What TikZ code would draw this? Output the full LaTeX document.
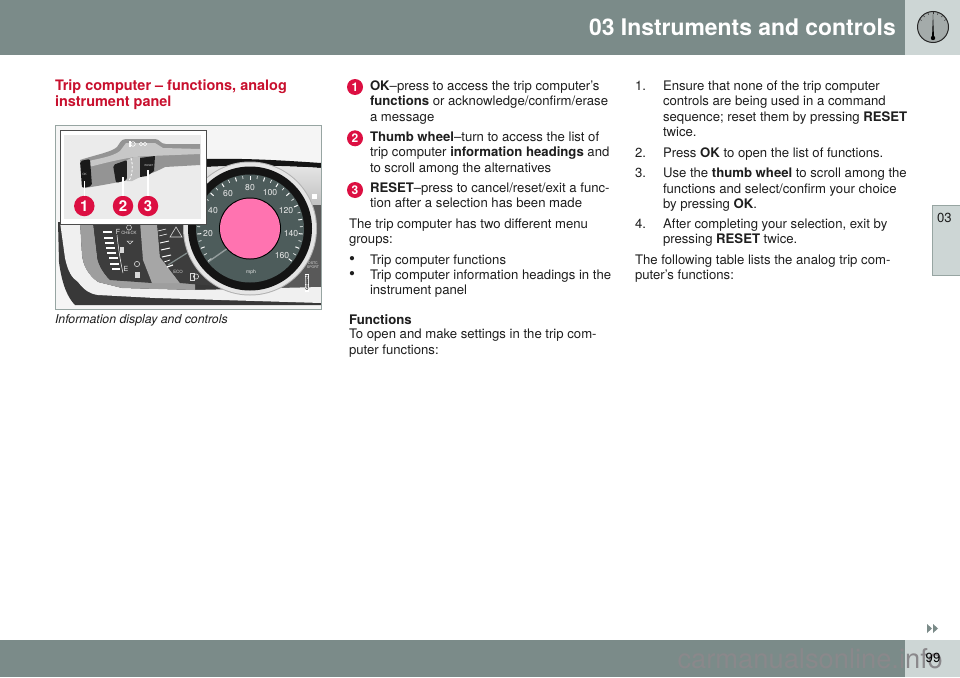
\documentclass[tikz,border=0pt]{standalone}
\usepackage{fontspec}
\setmainfont{TeX Gyre Heros}
\usetikzlibrary{calc,positioning}
\definecolor{bandgrey}{HTML}{7B8B89}
\definecolor{tabgrey}{HTML}{CDD6D5}
\definecolor{tabedge}{HTML}{97A5A2}
\definecolor{titlered}{HTML}{C8102E}
\definecolor{callred}{HTML}{DC0F42}
\definecolor{dialgrey}{HTML}{4D5C5B}
\definecolor{inkgrey}{HTML}{1E1E1E}
\definecolor{pinkhub}{HTML}{FF73B0}
\definecolor{webgrey}{HTML}{8A888B}
\newcommand{\bodysize}{\fontsize{13.15}{15}\selectfont}

\begin{document}
\begin{tikzpicture}
[
               x =  1pt,
               y = -1pt,
         txt/.style = { anchor=base west, inner sep=0pt, outer sep=0pt, text=inkgrey, font=\bodysize },
        head/.style = { anchor=base west, inner sep=0pt, outer sep=0pt, text=titlered, font=\fontsize{14.45}{16}\selectfont\bfseries },
        bull/.style = { circle, fill=callred, inner sep=0pt, minimum size=16pt, text=white, font=\fontsize{12}{12}\selectfont\bfseries },
        call/.style = { circle, fill=callred, inner sep=0pt, minimum size=20.5pt, text=white, font=\fontsize{15}{15}\selectfont\bfseries },
        leader/.style = { draw=white, line width=1.1pt },
        dial/.style = { inner sep=0pt, text=white!92!black, font=\fontsize{8.6}{9}\selectfont },
        tiny/.style = { inner sep=0pt, text=white!85!black, font=\fontsize{4.4}{5}\selectfont }
]
\useasboundingbox (0,0) rectangle (960,677);
\fill[white] (0,0) rectangle (960,677);

% page bands
\fill[bandgrey] (0,0) rectangle (905,55);
\fill[tabgrey] (905,0) rectangle (960,55);
\fill[bandgrey] (0,640) rectangle (905,677);
\fill[tabgrey] (905,640) rectangle (960,677);
\fill[tabgrey] (932,205) rectangle (960,275);
\draw[tabedge,line width=0.8pt] (960,205) -- (932,205) -- (932,275) -- (960,275);
\node (chapter) at (896,36) [anchor=base east, inner sep=0pt, text=white, font=\fontsize{22.9}{24}\selectfont\bfseries] {03 Instruments and controls};
\node (tabno) at (937,222) [txt] {03};

% gauge icon
\draw[black!85,fill=tabgrey!80!black,line width=1pt] (933,27) circle (15.5);
\foreach \a in {30,50,...,150} { \draw[black!80,line width=0.5pt] (933,27) ++(\a:-13) -- ++(\a:-2) ; }
\fill[black] (932,38) -- (933,14) -- (934,38) -- cycle;
\fill[black] (933,38) circle (2.2);

% photo
\begin{scope}
\clip (55,125) rectangle (321,309);
\fill[white!96!black] (55,125) rectangle (321,309);
\fill[black!92] (205,159) .. controls (250,158) and (290,161) .. (321,163) -- (321,168) .. controls (290,166) and (250,165) .. (205,167) -- cycle;
\shade[top color=black!10, bottom color=black!55] (205,167) .. controls (250,165) and (290,166) .. (321,168) -- (321,290) -- (205,290) -- cycle;
\fill[black!78] (58,222) -- (59,262) .. controls (62,285) and (68,298) .. (75,305) -- (321,305) -- (321,222) -- cycle;
\fill[black!65] (300,205) -- (321,205) -- (321,288) -- (250,288) -- cycle;
% silver trim
\fill[black!6] (60,222) -- (65,258) .. controls (68,272) and (72,278) .. (78,282) .. controls (84,290) and (90,294) .. (98,295) -- (155,298) -- (321,303) -- (321,287) -- (195,290) -- (122,288) -- (98,282) .. controls (88,275) and (83,265) .. (82,255) -- (80,222) -- cycle;
\fill[black!38] (80,222) -- (82,255) .. controls (83,265) and (88,275) .. (98,282) -- (122,288) -- (195,290) -- (195,283) -- (110,280) .. controls (102,272) and (97,262) .. (97,255) -- (93,222) -- cycle;
% gauge panels
\fill[black!76] (93,222) -- (97,255) .. controls (97,262) and (102,272) .. (110,280) -- (152,283) -- (143,260) -- (140,222) -- cycle;
\fill[black!35] (140,222) -- (143,260) -- (152,283) -- (180,283) -- (160,257) -- (157,222) -- cycle;
\fill[black!76] (157,222) -- (160,257) -- (180,283) -- (215,286) -- (215,222) -- cycle;
\foreach \y/\xa/\xb in {232/103/112,238/104/113,243/105/114,248/106/115,253/107/116,258/109/118,264/110/119,269/112/120} { \fill[white] (\xa,\y-1) rectangle (\xb,\y+1); }
\draw[white,line width=0.5pt] (117,235) .. controls (118,245) and (120,260) .. (123,273);
\node (fmark) at (118,232) [dial, font=\fontsize{7}{7}\selectfont] {F};
\node (emark) at (126,269) [dial, font=\fontsize{7}{7}\selectfont] {E};
\node (check) at (129,232.5) [tiny] {CHECK};
\draw[white!85!black,line width=0.5pt] (129,227.5) circle (2.5);
\draw[white!85!black,line width=0.5pt] (127,241) -- (133,241) -- (130,244) -- cycle;
\fill[white!85!black] (120,247) rectangle (124,253);
\fill[white!85!black] (135,272) rectangle (140,278);
\draw[white!85!black,line width=0.6pt] (137,264) circle (2.6);
% warning triangle and scale
\draw[white!85!black,line width=0.6pt] (170,237) -- (176,227) -- (182,237) -- cycle;
\foreach \x/\y/\w/\t in {158/229/8/0.5,159/234/8/0.5,160/241/9/0.9,161/248/9/1,162/255/9/1,164/260/6/0.7,167/265/6/1.2} { \draw[white,line width=\t pt] (\x,\y+2) -- ++(\w,-2); }
\node (ecomark) at (178,272) [tiny] {ECO};
\draw[white!85!black,line width=0.6pt] (190,273) rectangle (194,280);
\draw[white!85!black,line width=0.6pt] (196,276.5) circle (2.6);
\draw[dialgrey!70!white,line width=1.2pt] (168,265) -- (187,253);
% speedometer
\fill[black!30] (250,228.5) circle (67);
\fill[white!90!black] (250,228.5) circle (66);
\fill[black!92] (250,228.5) circle (62);
\fill[dialgrey] (250,228.5) circle (54);
\foreach \a in {218,202,...,-38} { \draw[white,line width=1pt] (250,228.5) ++(\a:-49) -- ++(\a:-4); }
\foreach \a in {210,194,...,-30} { \draw[white,line width=0.6pt] (250,228.5) ++(\a:-50) -- ++(\a:-3); }
\node (d20) at (208,234) [dial] {20};
\node (d40) at (213,211) [dial] {40};
\node (d60) at (228,194) [dial] {60};
\node (d80) at (250,188) [dial] {80};
\node (d100) at (270,193) [dial] {100};
\node (d120) at (286,211) [dial] {120};
\node (d140) at (291,234) [dial] {140};
\node (d160) at (282,256) [dial] {160};
\node (dmph) at (251,272) [dial, font=\fontsize{5}{5}\selectfont] {mph};
\draw[dialgrey!60!white,line width=1.4pt] (208,262) -- (228,248);
\fill[black] (250,228.5) circle (31);
\fill[pinkhub] (250,228.5) circle (30);
% right side panel
\fill[white] (312,194) rectangle (317,199);
\node (sport) at (313,265) [tiny, font=\fontsize{3.6}{4}\selectfont, align=center] {DSTC\\SPORT};
\node (partno) at (307,283) [inner sep=1pt, fill=white, text=black, rotate=90, font=\fontsize{3.8}{4}\selectfont\bfseries] {G048894};
\end{scope}
\draw[tabedge,line width=0.8pt] (55,125) rectangle (321,309);

% inset
\fill[white] (60,130) rectangle (206,224);
\draw[black!70,line width=0.9pt] (60,130) rectangle (206,224);
\fill[black!8] (64,135) rectangle (201,219);
\fill[black!42] (80,160) .. controls (95,155) and (112,152) .. (117,147) .. controls (120,143) and (121,139) .. (126,139) -- (155,139) .. controls (160,139) and (160,144) .. (166,144) -- (200,144) -- (200,165) -- (165,167) .. controls (150,175) and (135,180) .. (85,188) -- cycle;
\fill[black!22] (85,162) .. controls (100,158) and (112,157) .. (120,151) -- (126,143) -- (155,143) -- (163,148) -- (200,149) -- (200,154) -- (150,156) .. controls (130,156) and (105,163) .. (85,168) -- cycle;
\fill[black!90] (80,161) [rounded corners=2pt] -- (90,159) -- (92,186) -- (82,188) -- cycle;
\fill[black!88] (113,165) [rounded corners=2pt] -- (127,160) -- (127,180) -- (116,183) -- cycle;
\fill[black!25] (127,160) -- (134,157) -- (140,157) -- (140,177) -- (132,181) -- (127,181) -- cycle;
\draw[white,line width=0.8pt,dash pattern=on 2.4pt off 1.6pt] (131,158) .. controls (133,165) and (133,173) .. (129,181);
\fill[black!88] (140,158) -- (155,156) -- (154,171) -- (147,176) -- (140,177) -- cycle;
\fill[white] (129,141) rectangle (131,147);
\draw[white,line width=0.6pt] (133,144) circle (2.3) (141,144) circle (1.8) (145,144) circle (1.8);
\node (okmark) at (84.5,174) [tiny, font=\fontsize{3}{3}\selectfont] {OK};
\node (resetmark) at (149,166) [tiny, font=\fontsize{2.6}{3}\selectfont] {RESET};
\node (c1) at (84.3,206) [call] {1};
\node (c2) at (123,206) [call] {2};
\node (c3) at (148,206) [call] {3};
\coordinate (t1) at (84.3,181);
\coordinate (t2) at (123,177);
\coordinate (t3) at (148,170);
\draw[leader] (c1) -- (t1);
\draw[leader] (c2) -- (t2);
\draw[leader] (c3) -- (t3);

% left column
\node (title1) at (55,90.5) [head] {Trip computer – functions, analog};
\node (title2) at (55,106) [head] {instrument panel};
\node (caption) at (55,323.5) [txt, font=\fontsize{12.3}{14}\selectfont\itshape] {Information display and controls};

% middle column
\node (b1) at (355,87) [bull] {1};
\node (b2) at (355,138.3) [bull] {2};
\node (b3) at (355,190) [bull] {3};
\node (m1) at (370,90) [txt] {\textbf{OK}–press to access the trip computer's};
\node (m2) at (370,105.5) [txt] {\textbf{functions} or acknowledge/confirm/erase};
\node (m3) at (370,121) [txt] {a message};
\node (m4) at (370,141) [txt] {\textbf{Thumb wheel}–turn to access the list of};
\node (m5) at (370,156.5) [txt] {trip computer \textbf{information headings} and};
\node (m6) at (370,172) [txt] {to scroll among the alternatives};
\node (m7) at (370,192) [txt] {\textbf{RESET}–press to cancel/reset/exit a func-};
\node (m8) at (370,207.5) [txt] {tion after a selection has been made};
\node (m9) at (349,228) [txt] {The trip computer has two different menu};
\node (m10) at (349,243.5) [txt] {groups:};
\node (dot1) at (349,264) [txt, font=\fontsize{17}{17}\selectfont] {•};
\node (m11) at (370,264) [txt] {Trip computer functions};
\node (dot2) at (349,279.5) [txt, font=\fontsize{17}{17}\selectfont] {•};
\node (m12) at (370,279) [txt] {Trip computer information headings in the};
\node (m13) at (370,294.5) [txt] {instrument panel};
\node (m14) at (349,324) [txt, font=\fontsize{13.2}{15}\selectfont\bfseries] {Functions};
\node (m15) at (349,338.5) [txt] {To open and make settings in the trip com-};
\node (m16) at (349,354) [txt] {puter functions:};

% right column
\node (n1) at (635,90) [txt] {1.};
\node (r1) at (663,90) [txt] {Ensure that none of the trip computer};
\node (r2) at (663,105.5) [txt] {controls are being used in a command};
\node (r3) at (663,121) [txt] {sequence; reset them by pressing \textbf{RESET}};
\node (r4) at (663,136.5) [txt] {twice.};
\node (n2) at (635,157) [txt] {2.};
\node (r5) at (663,157) [txt] {Press \textbf{OK} to open the list of functions.};
\node (n3) at (635,177.5) [txt] {3.};
\node (r6) at (663,177.5) [txt] {Use the \textbf{thumb wheel} to scroll among the};
\node (r7) at (663,193) [txt] {functions and select/confirm your choice};
\node (r8) at (663,208.5) [txt] {by pressing \textbf{OK}.};
\node (n4) at (635,228) [txt] {4.};
\node (r9) at (663,228) [txt] {After completing your selection, exit by};
\node (r10) at (663,243.5) [txt] {pressing \textbf{RESET} twice.};
\node (r11) at (635,264) [txt] {The following table lists the analog trip com-};
\node (r12) at (635,279.5) [txt] {puter's functions:};

% continuation arrows
\fill[bandgrey] (927,624) -- (932,628.5) -- (927,633) -- cycle;
\fill[bandgrey] (933,624) -- (938,628.5) -- (933,633) -- cycle;

% web mark and page number
\node (webmark) at (943,668) [anchor=base east, inner sep=0pt, text=webgrey, font=\fontsize{27.3}{30}\selectfont] {carmanualsonline.info};
\node (pageno) at (933,658) [inner sep=0pt, text=black, font=\bodysize] {99};
\end{tikzpicture}
\end{document}
